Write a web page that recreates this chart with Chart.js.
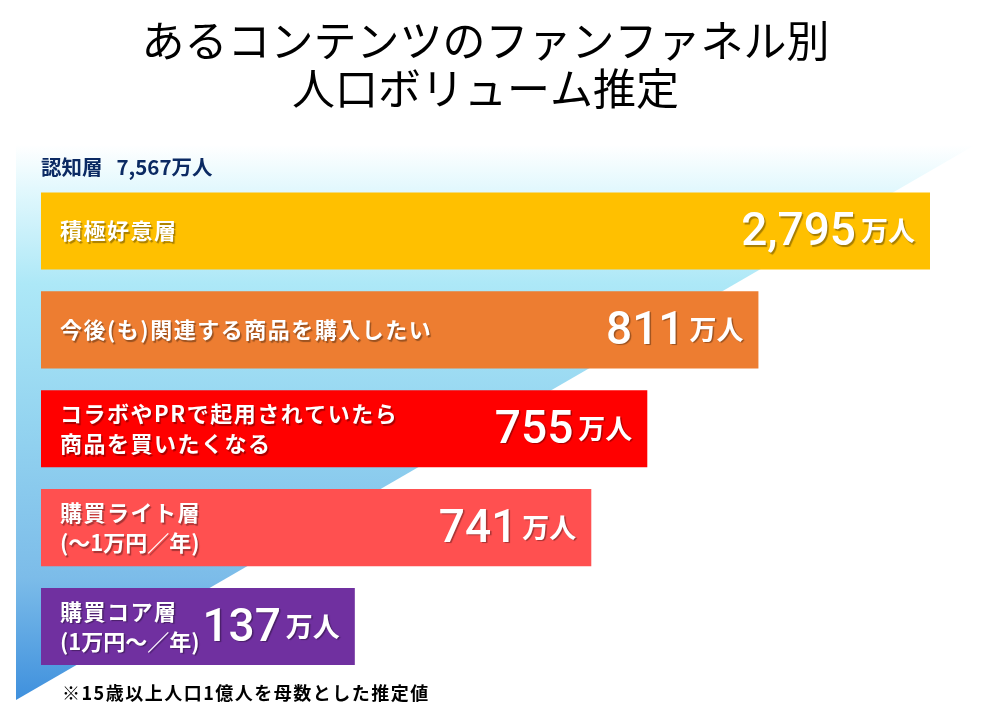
<!DOCTYPE html>
<html lang="ja">
<head>
<meta charset="utf-8">
<title>ファンファネル別 人口ボリューム推定</title>
<script src="https://cdn.jsdelivr.net/npm/chart.js@4.4.1/dist/chart.umd.min.js"></script>
<style>
    html, body { margin: 0; padding: 0; background: #fff; }
    #wrap { width: 1000px; height: 720px; }
</style>
</head>
<body>
<div id="wrap"><canvas id="graficoFunil"></canvas></div>
<script>
// ファネルの各層（2行ラベルは配列で）
const layers = [
    ['積極好意層'],
    ['今後(も)関連する商品を購入したい'],
    ['コラボやPRで起用されていたら', '商品を買いたくなる'],
    ['購買ライト層', '(～1万円／年)'],
    ['購買コア層', '(1万円～／年)']
];
const people = [2795, 811, 755, 741, 137];          // 万人
const funnelShare = [100, 80.7, 68.2, 61.9, 35.3];  // バーの長さ（ファネル段階、目視）
const awareness = 7567;                              // 認知層 万人
const barColors = ['#FFC000', '#ED7D31', '#FF0000', '#FF5050', '#7030A0'];

const JP = '"Noto Sans CJK JP", "Noto Sans", sans-serif';

const fmt = n => n.toLocaleString('en-US');

const funnelBg = {
    id: 'funnelBg',
    beforeDraw(chart) {
        const ctx = chart.ctx;
        ctx.save();
        const g = ctx.createLinearGradient(0, 145, 0, 700);
        g.addColorStop(0, '#ffffff');
        g.addColorStop(0.08, '#e2f8fd');
        g.addColorStop(0.25, '#ade8f7');
        g.addColorStop(0.5, '#94d4f0');
        g.addColorStop(0.78, '#7cbce9');
        g.addColorStop(1, '#3f90dd');
        ctx.fillStyle = g;
        ctx.beginPath();
        ctx.moveTo(16, 145);
        ctx.lineTo(975, 145);
        ctx.lineTo(16, 700);
        ctx.closePath();
        ctx.fill();
        ctx.restore();
    }
};

const barText = {
    id: 'barText',
    afterDatasetsDraw(chart) {
        const ctx = chart.ctx;
        const meta = chart.getDatasetMeta(0);
        ctx.save();
        meta.data.forEach((bar, i) => {
            ctx.fillStyle = '#fff';
            ctx.shadowColor = 'rgba(0,0,0,0.35)';
            ctx.shadowOffsetX = 1.5;
            ctx.shadowOffsetY = 1.5;
            ctx.shadowBlur = 1;

            // 層の名前
            ctx.font = 'bold 22px ' + JP;
            ctx.textAlign = 'left';
            ctx.textBaseline = 'middle';
            const lines = layers[i];
            const step = 30;
            lines.forEach((t, k) => {
                // 括弧つきの2行目は詰める
                ctx.letterSpacing = k > 0 && t.startsWith('(') ? '0px' : '1.5px';
                const y = bar.y + (k - (lines.length - 1) / 2) * step;
                ctx.fillText(t, 60, y);
            });

            // 数値
            ctx.letterSpacing = '0px';
            ctx.textAlign = 'right';
            ctx.textBaseline = 'alphabetic';
            const right = bar.x - 15;
            ctx.font = 'bold 27px ' + JP;
            const unitW = ctx.measureText('万人').width;
            ctx.fillText('万人', right, bar.y + 10);
            ctx.font = '500 46px Roboto, sans-serif';
            ctx.fillText(fmt(people[i]), right - unitW - 5, bar.y + 14);
        });
        ctx.restore();
    },
    afterDraw(chart) {
        const ctx = chart.ctx;
        ctx.save();
        ctx.fillStyle = '#000';
        ctx.font = 'bold 18px ' + JP;
        ctx.letterSpacing = '1.5px';
        ctx.textAlign = 'left';
        ctx.textBaseline = 'middle';
        ctx.fillText('※15歳以上人口1億人を母数とした推定値', 62, 693);
        ctx.restore();
    }
};

const ctx = document.getElementById('graficoFunil');

new Chart(ctx, {
    type: 'bar',
    data: {
        labels: layers.map(l => l.join('')),
        datasets: [{
            data: funnelShare,
            backgroundColor: barColors,
            borderWidth: 0,
            barPercentage: 0.78,
            categoryPercentage: 1
        }]
    },
    options: {
        indexAxis: 'y',
        responsive: true,
        maintainAspectRatio: false,
        animation: false,
        layout: {
            padding: { left: 41, right: 70, top: 0, bottom: 44 }
        },
        scales: {
            x: { display: false, min: 0, max: 100 },
            y: { display: false }
        },
        plugins: {
            legend: { display: false },
            tooltip: { enabled: false },
            title: {
                display: true,
                text: ['あるコンテンツのファンファネル別', '人口ボリューム推定'],
                color: '#000',
                font: { family: JP, size: 43, weight: 'normal', lineHeight: 1.116 },
                padding: { top: 17, bottom: 42 }
            },
            subtitle: {
                display: true,
                align: 'start',
                text: '認知層   ' + fmt(awareness) + '万人',
                color: '#0b2a63',
                font: { family: JP, size: 20.5, weight: 'bold', lineHeight: 1.2 },
                padding: { top: 0, bottom: 2 }
            }
        }
    },
    plugins: [funnelBg, barText]
});
</script>
</body>
</html>
